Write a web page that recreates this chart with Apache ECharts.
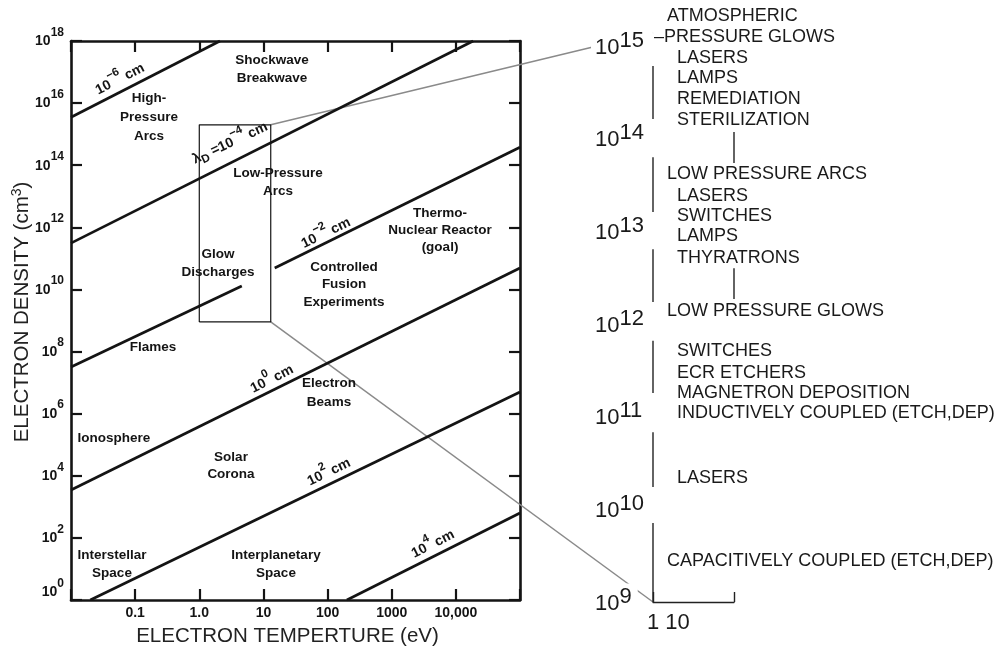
<!DOCTYPE html>
<html>
<head>
<meta charset="utf-8">
<script src="https://cdn.jsdelivr.net/npm/echarts@6/dist/echarts.min.js"></script>
<style>
  html, body { margin: 0; padding: 0; background: #fff; }
  #chart { width: 1002px; height: 652px; }
</style>
</head>
<body>
<div id="chart"></div>
<script>
// ---- Plasma map: electron temperature (eV) vs electron density (cm^-3) ----
const xTickExps = [-1, 0, 1, 2, 3, 4];
const xTickText = ['0.1', '1.0', '10', '100', '1000', '10,000'];

// Lines of constant Debye length, [temperature eV, density cm^-3] end points
const debyeMinus6 = [[0.01, 3.5e15], [2.1, 1e18]];
const debyeMinus4 = [[0.01, 3.1e11], [18600, 1e18]];
const debyeMinus2Flames = [[0.01, 3.2e7], [4.6, 1.3e10]];
const debyeMinus2Fusion = [[15, 4.9e10], [1e5, 3.8e14]];
const debyeZero = [[0.01, 3.5e3], [1e5, 4.9e10]];
const debyePlus2 = [[0.02, 1], [1e5, 5e6]];
const debyePlus4 = [[200, 1], [1e5, 630]];

// Glow-discharge window that is expanded on the right
const glowBoxT = [1.0, 13];
const glowBoxN = [9e8, 2e15];

// Expanded density scale (right panel)
const panelExps = [9, 10, 11, 12, 13, 14, 15];
const panelBars = [[1.63e14, 6.1e14], [1.62e13, 6.3e13], [1.73e12, 6.4e12],
                   [1.8e11, 6.6e11], [1.74e10, 6.8e10], [1e9, 7.1e9]];
const panelLinks = [[5.46e13, 1.18e14], [1.86e12, 4.0e12]];
const panelTempRange = [1, 10];
const connectorTopEnd = [1, 1.4e15];

const INK = '#141414';
const SANS = '"Liberation Sans", Arial, sans-serif';
const BOLD = 'bold 13.5px "Liberation Sans", Arial, sans-serif';

const chart = echarts.init(document.getElementById('chart'), null, { renderer: 'canvas' });

function lineSeries(data, x, y, width, color) {
  return {
    type: 'line', xAxisIndex: x, yAxisIndex: y, data: data,
    showSymbol: false, symbol: 'none', silent: true, animation: false,
    lineStyle: { color: color, width: width }, z: 3
  };
}

const series = [];
[debyeMinus6, debyeMinus4, debyeMinus2Flames, debyeMinus2Fusion, debyeZero, debyePlus2, debyePlus4]
  .forEach(d => series.push(lineSeries(d, 0, 0, 2.7, INK)));

// glow discharge rectangle
series.push(lineSeries([
  [glowBoxT[0], glowBoxN[0]], [glowBoxT[1], glowBoxN[0]], [glowBoxT[1], glowBoxN[1]],
  [glowBoxT[0], glowBoxN[1]], [glowBoxT[0], glowBoxN[0]]
], 0, 0, 1.2, INK));

// right panel axis pieces
panelBars.forEach(b => series.push(lineSeries([[panelTempRange[0], b[0]], [panelTempRange[0], b[1]]], 2, 2, 1.4, '#222')));
panelLinks.forEach(b => series.push(lineSeries([[panelTempRange[1], b[0]], [panelTempRange[1], b[1]]], 2, 2, 1.4, '#222')));

const boldTok = (size, pad, lh) => ({
  fontFamily: SANS, fontSize: size, fontWeight: 'bold', color: INK,
  lineHeight: lh, verticalAlign: 'bottom', padding: [0, 0, pad, 0]
});
const supRich = {
  b: boldTok(14, 6, 16),
  s: boldTok(12, 16, 13),
  b0: boldTok(14, 14, 16),
  s0: boldTok(12, 24, 13)
};

const panelTok = (padB, padR) => ({
  fontFamily: SANS, fontSize: 22, color: '#1a1a1a', lineHeight: 24,
  verticalAlign: 'bottom', padding: [0, padR, padB, 0]
});
const panelRich = { b: panelTok(4, 0), s: panelTok(11, 0), sTop: panelTok(11, 3) };

const frameLine = { show: true, onZero: false, lineStyle: { color: INK, width: 2.6 } };
const frameTick = { show: true, inside: true, length: 11, lineStyle: { color: INK, width: 2.2 } };

const option = {
  animation: false,
  backgroundColor: '#fff',
  grid: [
    { left: 71, top: 41, width: 449, height: 559 },
    { left: 653, top: 46, width: 81, height: 556 }
  ],
  xAxis: [
    {
      type: 'log', logBase: 10, gridIndex: 0, min: 0.01, max: 1e5, interval: 1, position: 'bottom',
      axisLine: frameLine, axisTick: frameTick, splitLine: { show: false }, minorTick: { show: false },
      axisLabel: {
        margin: 6, fontFamily: SANS, fontSize: 14, fontWeight: 'bold', color: INK,
        showMinLabel: true, showMaxLabel: true,
        formatter: v => {
          const i = xTickExps.indexOf(Math.round(Math.log10(v)));
          return i >= 0 ? xTickText[i] : '';
        }
      }
    },
    {
      type: 'log', logBase: 10, gridIndex: 0, min: 0.01, max: 1e5, interval: 1, position: 'top',
      axisLine: frameLine, axisTick: frameTick, axisLabel: { show: false }, splitLine: { show: false }
    },
    {
      type: 'value', gridIndex: 1, min: panelTempRange[0], max: panelTempRange[1], interval: 9, position: 'bottom',
      axisLine: { show: true, onZero: false, lineStyle: { color: '#222', width: 1.4 } },
      axisTick: { show: true, inside: true, length: 10, lineStyle: { color: '#222', width: 1.4 } },
      axisLabel: { show: false }, splitLine: { show: false }
    }
  ],
  yAxis: [
    {
      type: 'log', logBase: 10, gridIndex: 0, min: 1, max: 1e18, interval: 2, position: 'left',
      axisLine: frameLine, axisTick: frameTick, splitLine: { show: false }, minorTick: { show: false },
      axisLabel: {
        margin: 7, showMinLabel: true, showMaxLabel: true, rich: supRich, padding: [11, 0, 0, 0],
        formatter: v => {
          const e = Math.round(Math.log10(v));
          return e === 0 ? '{b0|10}{s0|0}' : '{b|10}{s|' + e + '}';
        }
      }
    },
    {
      type: 'log', logBase: 10, gridIndex: 0, min: 1, max: 1e18, interval: 2, position: 'right',
      axisLine: frameLine, axisTick: frameTick, axisLabel: { show: false }, splitLine: { show: false }
    },
    {
      type: 'log', logBase: 10, gridIndex: 1, min: 1e9, max: 1e15, interval: 1, position: 'left', z: 6,
      axisLine: { show: false }, axisTick: { show: false }, splitLine: { show: false },
      axisLabel: {
        margin: 62, align: 'left', showMinLabel: true, showMaxLabel: true, rich: panelRich,
        backgroundColor: '#fff', padding: [11, 6, 2, 4],
        formatter: v => {
          const e = Math.round(Math.log10(v));
          return '{b|10}{' + (e === panelExps[panelExps.length - 1] ? 'sTop' : 's') + '|' + e + '}';
        }
      }
    }
  ],
  series: series
};

chart.setOption(option);

// ---------- annotations ----------
const g = [];
function label(x, y, text, extra) {
  g.push(Object.assign({
    type: 'text', x: x, y: y, z: 10, silent: true,
    style: Object.assign({ text: text, font: BOLD, fill: INK, align: 'center', verticalAlign: 'middle', lineHeight: 18 }, extra || {})
  }));
}
// region names
label(272, 69, 'Shockwave\nBreakwave');
label(149, 117, 'High-\nPressure\nArcs', { lineHeight: 19 });
label(278, 182, 'Low-Pressure\nArcs');
label(218, 263, 'Glow\nDischarges');
label(440, 230, 'Thermo-\nNuclear Reactor\n(goal)', { lineHeight: 17 });
label(344, 284.5, 'Controlled\nFusion\nExperiments', { lineHeight: 17.5 });
label(153, 347, 'Flames');
label(329, 392.5, 'Electron\nBeams', { lineHeight: 19 });
label(114, 438, 'Ionosphere');
label(231, 465.5, 'Solar\nCorona', { lineHeight: 17 });
label(112, 564, 'Interstellar\nSpace');
label(276, 564, 'Interplanetary\nSpace');

// Debye-length tags along the lines
const tagTok = (size, pad, lh) => ({
  fontFamily: SANS, fontSize: size, fontWeight: 'bold', fill: INK,
  verticalAlign: 'bottom', lineHeight: lh, padding: [0, 0, pad, 0]
});
const tagRich = { b: tagTok(14, 3, 16), s: tagTok(11.5, 12, 12), d: tagTok(11.5, 0, 12) };
function tag(x, y, deg, text) {
  g.push({
    type: 'text', x: x, y: y, rotation: deg * Math.PI / 180, z: 10, silent: true,
    style: { text: text, rich: tagRich, align: 'center', verticalAlign: 'middle' }
  });
}
tag(121, 81, 27, '{b|10}{s|−6}{b| cm}');
tag(231, 145, 25, '{b|λ}{d|D}{b| =10}{s|−4}{b| cm}');
tag(327, 235, 26, '{b|10}{s|−2}{b| cm}');
tag(273, 381, 27, '{b|10}{s|0}{b| cm}');
tag(330, 474, 26, '{b|10}{s|2}{b| cm}');
tag(434, 546, 27, '{b|10}{s|4}{b| cm}');

// axis titles
g.push({
  type: 'text', x: 22, y: 312, rotation: Math.PI / 2, z: 10, silent: true,
  style: {
    text: '{t|ELECTRON DENSITY (cm}{u|3}{t|)}', align: 'center', verticalAlign: 'middle',
    rich: {
      t: { fontFamily: SANS, fontSize: 20.5, fill: '#222', verticalAlign: 'bottom', lineHeight: 22 },
      u: { fontFamily: SANS, fontSize: 14, fill: '#222', verticalAlign: 'bottom', lineHeight: 16, padding: [0, 0, 9, 0] }
    }
  }
});
g.push({
  type: 'text', x: 287.5, y: 636, z: 10, silent: true,
  style: { text: 'ELECTRON TEMPERTURE (eV)', fontFamily: SANS, fontSize: 20.5, fill: '#222', align: 'center', verticalAlign: 'middle' }
});

// right panel: applications by density band
const panelText = [
  [667, 16.5, 'ATMOSPHERIC'],
  [654, 37, '–PRESSURE GLOWS'],
  [677, 58, 'LASERS'],
  [677, 78, 'LAMPS'],
  [677, 99, 'REMEDIATION'],
  [677, 120, 'STERILIZATION'],
  [667, 174.5, 'LOW PRESSURE ARCS'],
  [677, 196, 'LASERS'],
  [677, 216.5, 'SWITCHES'],
  [677, 236.5, 'LAMPS'],
  [677, 258.5, 'THYRATRONS'],
  [667, 311.5, 'LOW PRESSURE GLOWS'],
  [677, 351.5, 'SWITCHES'],
  [677, 373, 'ECR ETCHERS'],
  [677, 393.5, 'MAGNETRON DEPOSITION'],
  [677, 413.5, 'INDUCTIVELY COUPLED (ETCH,DEP)'],
  [677, 478.5, 'LASERS'],
  [667, 561.5, 'CAPACITIVELY COUPLED (ETCH,DEP)']
];
panelText.forEach(p => g.push({
  type: 'text', x: p[0], y: p[1], z: 10, silent: true,
  style: { text: p[2], fontFamily: SANS, fontSize: 18, fill: '#1a1a1a', align: 'left', verticalAlign: 'middle' }
}));
g.push({
  type: 'text', x: 647, y: 623, z: 10, silent: true,
  style: { text: '1 10', fontFamily: SANS, fontSize: 22, fill: '#1a1a1a', align: 'left', verticalAlign: 'middle' }
});

// gray connectors from the glow-discharge window to the expanded scale
const gA = { xAxisIndex: 0, yAxisIndex: 0 };
const gB = { xAxisIndex: 2, yAxisIndex: 2 };
const topFrom = chart.convertToPixel(gA, [glowBoxT[1], glowBoxN[1]]);
const topTo = chart.convertToPixel(gB, connectorTopEnd);
const botFrom = chart.convertToPixel(gA, [glowBoxT[1], glowBoxN[0]]);
const botTo = chart.convertToPixel(gB, [panelTempRange[0], panelBars[5][0]]);
[[topFrom, topTo], [botFrom, botTo]].forEach(c => g.push({
  type: 'line', z: 1, silent: true,
  shape: { x1: c[0][0], y1: c[0][1], x2: c[1][0], y2: c[1][1] },
  style: { stroke: '#8a8a8a', lineWidth: 1.5 }
}));

chart.setOption({ graphic: { elements: g } });
</script>
</body>
</html>
